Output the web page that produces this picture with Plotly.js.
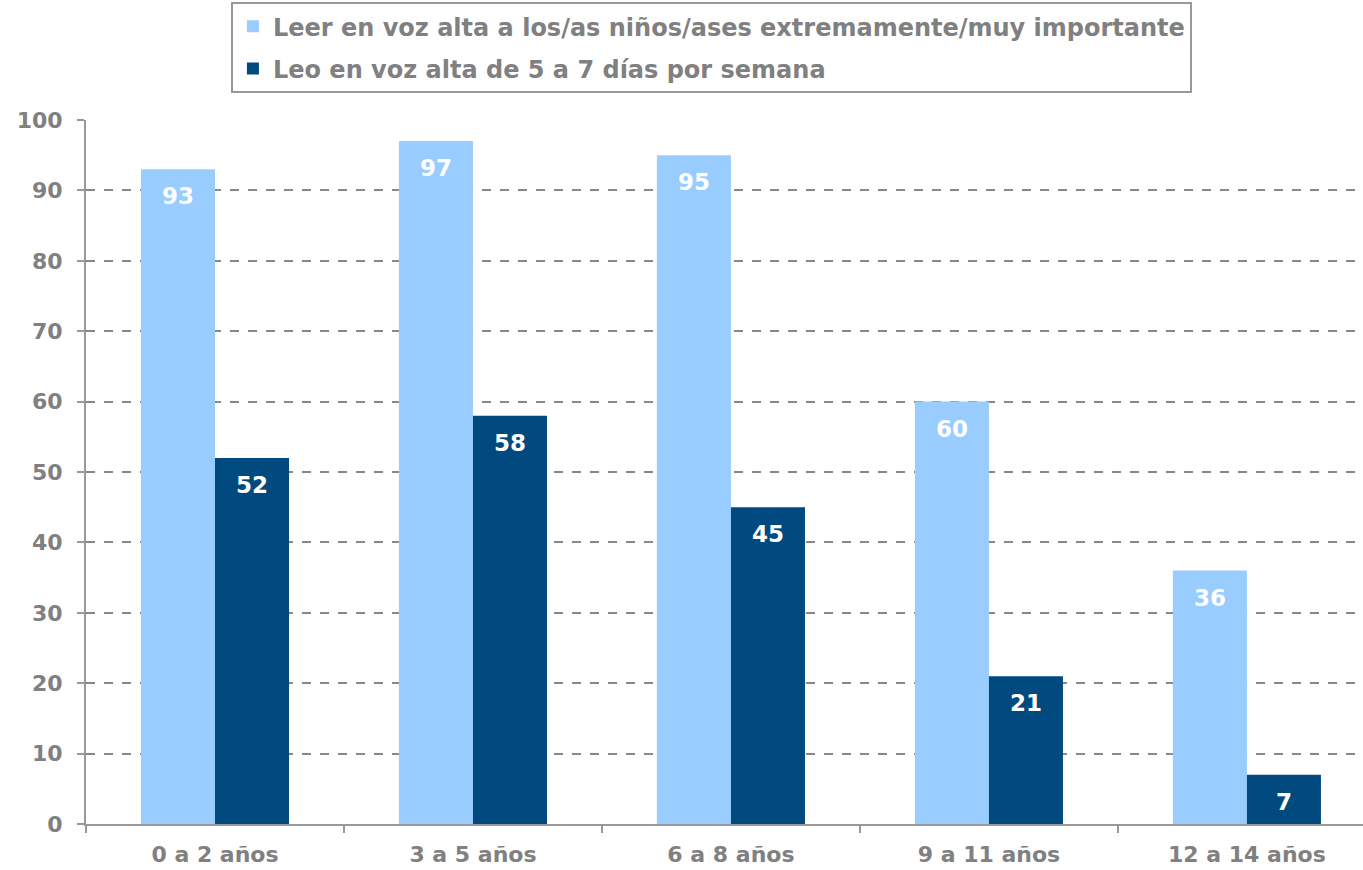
<!DOCTYPE html>
<html><head><meta charset="utf-8">
<script src="https://cdn.plot.ly/plotly-3.0.1.min.js"></script>
<style>html,body{margin:0;padding:0;background:#fff}</style>
</head><body><div id="chart" style="width:1363px;height:870px"></div>
<script>
const categories = ["0 a 2 años","3 a 5 años","6 a 8 años","9 a 11 años","12 a 14 años"];
const seriesNames = ["Leer en voz alta a los/as niños/ases extremamente/muy importante","Leo en voz alta de 5 a 7 días por semana"];
const importante = [93, 97, 95, 60, 36];
const leo = [52, 58, 45, 21, 7];
const yTicks = [0,10,20,30,40,50,60,70,80,90,100];

const font = "Verdana, 'DejaVu Sans', sans-serif";
const gray = "#808080";
const colors = ["#99ccff", "#004a80"];
const series = [importante, leo];
const data = series.map((y, i) => ({
  type: "bar", name: seriesNames[i], x: categories, y,
  marker: {color: colors[i]}, legendgroup: "g" + i
}));
const annotations = [];
series.forEach((y, i) => y.forEach((v, j) => annotations.push({
  x: categories[j], y: v, xref: "x", yref: "y", text: String(v), showarrow: false,
  xshift: i === 0 ? -37 : 37, yshift: -27, yanchor: "middle",
  font: {family: font, size: 23, color: "#ffffff", weight: "bold"}
})));
const layout = {
  width: 1363, height: 870,
  margin: {l: 86, r: 0, t: 120, b: 46},
  paper_bgcolor: "#fff", plot_bgcolor: "#fff",
  barmode: "group", bargap: 0.426, bargroupgap: 0,
  font: {family: font, color: gray},
  annotations,
  xaxis: {
    type: "category", range: [-0.5, 4.45], tickson: "boundaries", ticks: "outside", ticklen: 7, tickwidth: 2, tickcolor: "#999",
    showline: true, linecolor: "#999", linewidth: 2, ticklabelstandoff: 10,
    tickfont: {family: font, size: 22, color: gray, weight: "bold"}, showgrid: false
  },
  yaxis: {
    range: [0, 100], tickvals: yTicks, ticktext: yTicks.map(String),
    ticks: "outside", ticklen: 7, tickwidth: 2, tickcolor: "#999",
    showline: true, linecolor: "#999", linewidth: 2, ticklabelstandoff: 10,
    showgrid: true, gridcolor: "#888", griddash: "dash", gridwidth: 1.5,
    zeroline: false,
    tickfont: {family: font, size: 22, color: gray, weight: "bold"}
  },
  legend: {
    x: 0.1135, xanchor: "left", y: 1.038, yanchor: "bottom",
    orientation: "v", bordercolor: "#999", borderwidth: 2, bgcolor: "#fff",
    font: {family: font, size: 24, color: gray, weight: "bold"},
    itemwidth: 30, tracegroupgap: 8
  },
  showlegend: true
};
Plotly.newPlot("chart", data, layout, {displayModeBar: false});
</script></body></html>
